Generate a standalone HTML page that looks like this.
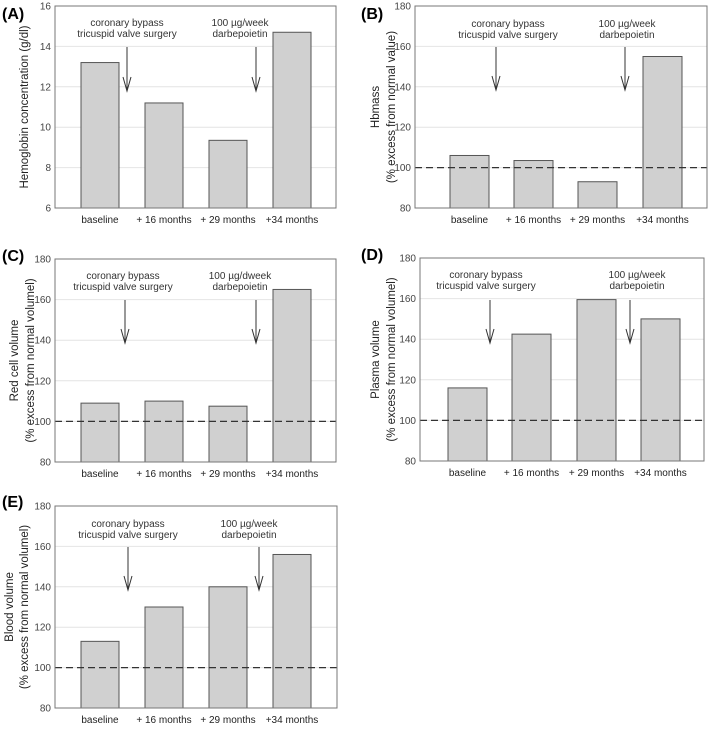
<!DOCTYPE html>
<html><head><meta charset="utf-8"><style>
body{margin:0;background:#fff;}
svg{font-family:"Liberation Sans",sans-serif;}
</style></head><body>
<svg id="fig" width="709" height="726" viewBox="0 0 709 726"></svg>
<script>
const categories = ["baseline", "+ 16 months", "+ 29 months", "+34 months"];
const valuesA = [13.2, 11.2, 9.35, 14.7];
const valuesB = [106, 103.5, 93, 155];
const valuesC = [109, 110, 107.5, 165];
const valuesD = [116, 142.5, 159.5, 150];
const valuesE = [113, 130, 140, 156];
const ticksA = [6, 8, 10, 12, 14, 16];
const ticksPct = [80, 100, 120, 140, 160, 180];

const NS = "http://www.w3.org/2000/svg";
const svg = document.getElementById('fig');
function mk(tag, attrs, parent) {
  const e = document.createElementNS(NS, tag);
  for (const k in attrs) e.setAttribute(k, attrs[k]);
  (parent || svg).appendChild(e);
  return e;
}
const panels = [
  {id:'a', letter:'(A)', lx:8, ly:19, L:55, R:336, T:6, B:208, vals:valuesA, ticks:ticksA, ylab:["Hemoglobin concentration (g/dl)"], ylx:[25], ref:null,
   barX:[81,145,209,273], bw:38, arrows:[127,256], ay:[47,91], txt:[[127,"coronary bypass","tricuspid valve surgery"],[240,"100 µg/week","darbepoietin"]], ty:[26,37]},
  {id:'b', letter:'(B)', lx:367, ly:19, L:415, R:707, T:6, B:208, vals:valuesB, ticks:ticksPct, ylab:["Hbmass","(% excess from normal value)"], ylx:[376,392], ref:100,
   barX:[450,514,578,643], bw:39, arrows:[496,625], ay:[47,90], txt:[[508,"coronary bypass","tricuspid valve surgery"],[627,"100 µg/week","darbepoietin"]], ty:[27,38]},
  {id:'c', letter:'(C)', lx:8, ly:261, L:55, R:336, T:259, B:462, vals:valuesC, ticks:ticksPct, ylab:["Red cell volume","(% excess from normal volumel)"], ylx:[15,31], ref:100,
   barX:[81,145,209,273], bw:38, arrows:[125,256], ay:[300,343], txt:[[123,"coronary bypass","tricuspid valve surgery"],[240,"100 µg/dweek","darbepoietin"]], ty:[279,290]},
  {id:'d', letter:'(D)', lx:367, ly:260, L:420, R:704, T:258, B:461, vals:valuesD, ticks:ticksPct, ylab:["Plasma volume","(% excess from normal volumel)"], ylx:[376,392], ref:100,
   barX:[448,512,577,641], bw:39, arrows:[490,630], ay:[300,343], txt:[[486,"coronary bypass","tricuspid valve surgery"],[637,"100 µg/week","darbepoietin"]], ty:[278,289]},
  {id:'e', letter:'(E)', lx:8, ly:507, L:55, R:337, T:506, B:708, vals:valuesE, ticks:ticksPct, ylab:["Blood volume","(% excess from normal volumel)"], ylx:[10,25], ref:100,
   barX:[81,145,209,273], bw:38, arrows:[128,259], ay:[547,590], txt:[[128,"coronary bypass","tricuspid valve surgery"],[249,"100 µg/week","darbepoietin"]], ty:[527,538]}
];
panels.forEach(p => {
  const g = mk('g', {});
  
  
  const lo = p.ticks[0], hi = p.ticks[p.ticks.length-1];
  const y = v => p.B - (v - lo) / (hi - lo) * (p.B - p.T);
  p.ticks.forEach(t => {
    if (t !== lo && t !== hi) {
      const gl = mk('line', {x1:p.L, x2:p.R, y1:y(t), y2:y(t), stroke:'#e4e4e4', 'stroke-width':1}, g);
      
      
    }
    const tl = mk('text', {x:p.L-4, y:y(t)+3.5, 'text-anchor':'end', 'font-size':10, fill:'#444'}, g);
    tl.textContent = t;
    
    
  });
  p.vals.forEach((v, i) => {
    const r = mk('rect', {x:p.barX[i], y:y(v), width:p.bw, height:p.B - y(v), fill:'#d0d0d0', stroke:'#555', 'stroke-width':1}, g);
    
    
    const cl = mk('text', {x:p.barX[i] + p.bw/2, y:p.B + 15, 'text-anchor':'middle', 'font-size':10, fill:'#222'}, g);
    cl.textContent = categories[i];
    
    
  });
  if (p.ref !== null) {
    const rl = mk('line', {x1:p.L, x2:p.R, y1:y(p.ref), y2:y(p.ref), stroke:'#333', 'stroke-width':1.3, 'stroke-dasharray':'7,4'}, g);
    
    
  }
  const fr = mk('rect', {x:p.L, y:p.T, width:p.R-p.L, height:p.B-p.T, fill:'none', stroke:'#777', 'stroke-width':1}, g);
  
  
  p.arrows.forEach(ax => {
    const a = mk('path', {d:`M${ax},${p.ay[0]} L${ax},${p.ay[1]} M${ax-4},${p.ay[1]-14} L${ax},${p.ay[1]} L${ax+4},${p.ay[1]-14}`, stroke:'#333', 'stroke-width':1, fill:'none'}, g);
    
    
  });
  p.txt.forEach(t => {
    [1,2].forEach(k => {
      const at = mk('text', {x:t[0], y:p.ty[k-1], 'text-anchor':'middle', 'font-size':10, fill:'#333'}, g);
      at.textContent = t[k];
      
      
    });
  });
  const cy = (p.T + p.B) / 2;
  p.ylab.forEach((s, k) => {
    const yl = mk('text', {x:p.ylx[k], y:cy, 'text-anchor':'middle', 'font-size':11.5, fill:'#222', transform:`rotate(-90 ${p.ylx[k]} ${cy})`, 'dominant-baseline':'middle'}, g);
    yl.textContent = s;
    
    
  });
  const pl = mk('text', {x:p.lx - 6, y:p.ly, 'font-size':16, 'font-weight':'bold', fill:'#000'}, g);
  pl.textContent = p.letter;
  
  
});
</script>
</body></html>
